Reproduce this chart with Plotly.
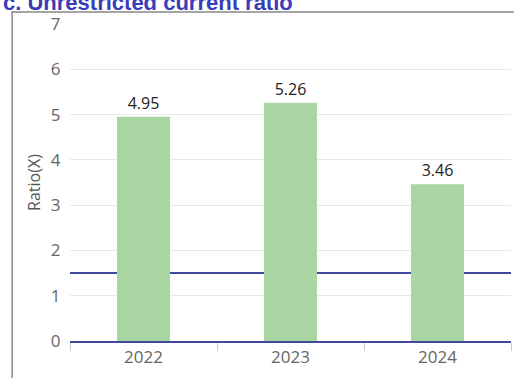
import plotly.graph_objects as go

years = ["2022", "2023", "2024"]
ratios = [4.95, 5.26, 3.46]
threshold = 1.5
title_text = "c. Unrestricted current ratio"
y_title = "Ratio(X)"

fig = go.Figure()
fig.add_trace(go.Bar(
    x=years, y=ratios,
    marker=dict(color="#a8d5a2", line=dict(width=0)),
    width=0.36,
    text=[f"{v:.2f}" for v in ratios],
    textposition="outside",
    textfont=dict(family="Open Sans", size=16, color="#222222"),
    cliponaxis=False,
))

fig.add_shape(type="line", xref="paper", yref="y", x0=0, x1=1, y0=threshold, y1=threshold,
              line=dict(color="#3f4a9e", width=2), layer="below")

# border box
fig.add_shape(type="rect", xref="paper", yref="paper",
              x0=-58/442, x1=1.2, y0=-0.3, y1=1 + 12/317,
              line=dict(color="#888888", width=1.5), fillcolor="rgba(0,0,0,0)")

fig.add_annotation(text=f"<b>{title_text}</b>", xref="paper", yref="paper",
                   x=-69/442, y=1 + 7/317, xanchor="left", yanchor="bottom",
                   showarrow=False,
                   font=dict(family="Liberation Sans", size=22, color="#3a3db8"))

fig.update_layout(
    width=514, height=378,
    margin=dict(l=70, r=3, t=24, b=37),
    paper_bgcolor="white", plot_bgcolor="white",
    showlegend=False,
    bargap=0.64,
    font=dict(family="Open Sans", color="#666666", size=16),
)
fig.update_xaxes(
    type="category",
    showline=True, linecolor="#3f4a9e", linewidth=2,
    ticks="outside", tickson="boundaries", ticklen=8, tickcolor="#cccccc",
    tickfont=dict(family="Open Sans", size=17, color="#666666"),
    showgrid=False,
)
fig.update_yaxes(
    range=[0, 7], dtick=1,
    showgrid=True, gridcolor="#e8e8e8", gridwidth=1,
    zeroline=False,
    ticks="outside", ticklen=5, tickcolor="rgba(0,0,0,0)",
    tickfont=dict(family="Open Sans", size=17, color="#666666"),
    title=dict(text=y_title, font=dict(family="Open Sans", size=16, color="#555555"), standoff=6),
)

fig.write_html("out.html", config={"displayModeBar": False},
               post_script="document.body.style.margin='0';")
